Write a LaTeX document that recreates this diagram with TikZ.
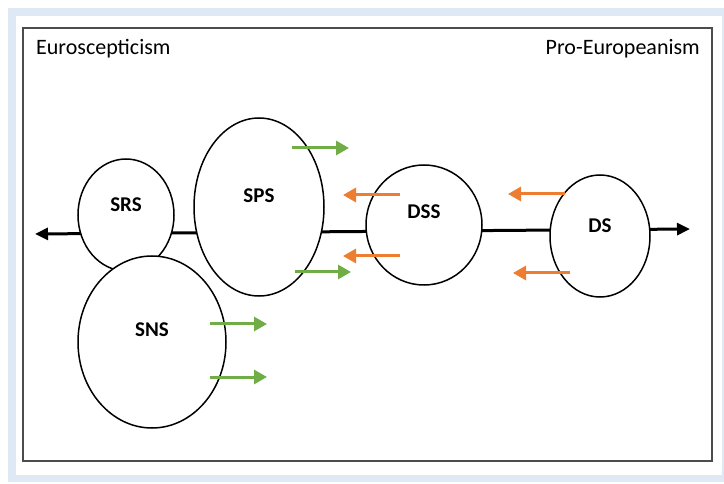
\documentclass[tikz,border=0pt]{standalone}
\usepackage{fontspec}
\setmainfont{Carlito}
\usetikzlibrary{shapes.geometric,arrows.meta}
\definecolor{bandblue}{HTML}{DEE9F5}
\definecolor{fgreen}{HTML}{70AD47}
\definecolor{forange}{HTML}{ED7D31}
\tikzset{
  party/.style={ellipse, draw=black, line width=1.5pt, fill=white, inner sep=0pt},
  plabel/.style={font=\fontsize{21}{25}\selectfont\bfseries},
  axisline/.style={line width=3pt, {Triangle[length=13pt,width=12pt]}-{Triangle[length=13pt,width=12pt]}},
  garrow/.style={fgreen, line width=3pt, -{Triangle[length=13pt,width=14pt]}},
  oarrow/.style={forange, line width=3pt, -{Triangle[length=13pt,width=14pt]}},
  endlabel/.style={font=\fontsize{22}{26}\selectfont, inner sep=0pt}
}
\begin{document}
\begin{tikzpicture}[x=1pt,y=-1pt]
\useasboundingbox (0,0) rectangle (724,484);
\fill[white] (0,0) rectangle (724,484);
\fill[bandblue] (8,8) rectangle (730,482);
\fill[white] (16,16) rectangle (722,475);
\draw[line width=1.5pt, black!70] (23,28) rectangle (712,461);

\node[endlabel, anchor=base west] (euro) at (36,55) {Euroscepticism};
\node[endlabel, anchor=base east] (pro) at (700,55) {Pro-Europeanism};

\coordinate (axL) at (35,234);
\coordinate (axR) at (690,229);
\draw[axisline] (axL) -- (axR);

\node[party, minimum width=96pt, minimum height=112pt] (SRS) at (126,215) {};
\node[plabel] (SRSl) at (126,205) {SRS};
\node[party, minimum width=130pt, minimum height=178pt] (SPS) at (259,207) {};
\node[plabel] (SPSl) at (259,196) {SPS};
\node[party, minimum width=116pt, minimum height=120pt] (DSS) at (424,225) {};
\node[plabel] (DSSl) at (424,212) {DSS};
\node[party, minimum width=100pt, minimum height=122pt] (DS) at (600,236) {};
\node[plabel] (DSl) at (600,226) {DS};
\node[party, minimum width=148pt, minimum height=172pt] (SNS) at (152,342) {};
\node[plabel] (SNSl) at (152,330) {SNS};

\coordinate (g1a) at (292,148); \coordinate (g1b) at (349,148);
\coordinate (g2a) at (295,272); \coordinate (g2b) at (351,272);
\coordinate (g3a) at (210,324); \coordinate (g3b) at (267,324);
\coordinate (g4a) at (210,377); \coordinate (g4b) at (267,377);
\draw[garrow] (g1a) -- (g1b);
\draw[garrow] (g2a) -- (g2b);
\draw[garrow] (g3a) -- (g3b);
\draw[garrow] (g4a) -- (g4b);

\coordinate (o1a) at (400,195); \coordinate (o1b) at (343,195);
\coordinate (o2a) at (400,256); \coordinate (o2b) at (343,256);
\coordinate (o3a) at (565,194); \coordinate (o3b) at (508,194);
\coordinate (o4a) at (570,273); \coordinate (o4b) at (513,273);
\draw[oarrow] (o1a) -- (o1b);
\draw[oarrow] (o2a) -- (o2b);
\draw[oarrow] (o3a) -- (o3b);
\draw[oarrow] (o4a) -- (o4b);
\end{tikzpicture}
\end{document}
